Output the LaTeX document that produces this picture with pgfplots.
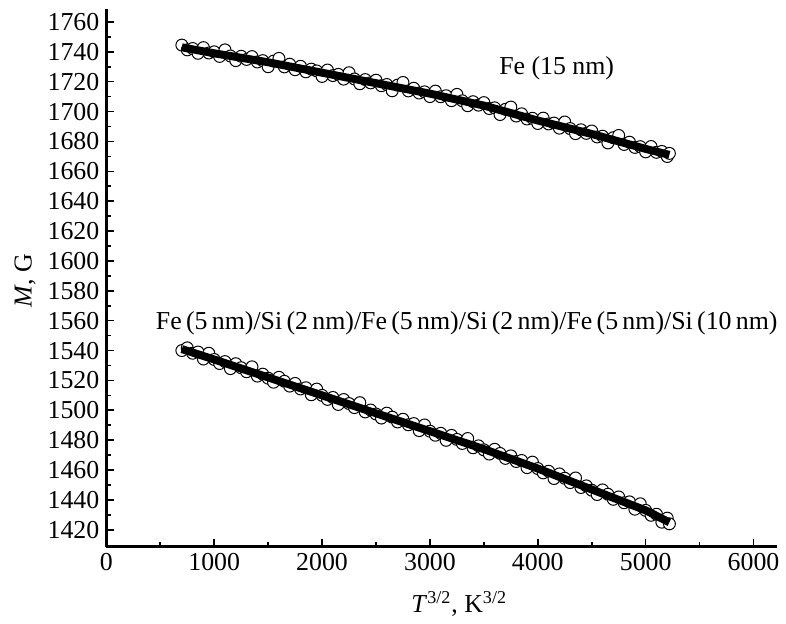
\documentclass[border=0pt]{standalone}
\usepackage{fontspec}
\setmainfont{Liberation Serif}
\usepackage{pgfplots}
\pgfplotsset{compat=1.18}

% Fe (15 nm): measured points
\pgfplotstableread{
x y
700 1744.5
750 1741.3
800 1742.2
850 1739.0
900 1742.8
950 1739.2
1000 1740.0
1050 1736.9
1100 1741.3
1150 1737.2
1200 1734.1
1250 1737.0
1300 1734.9
1350 1736.8
1400 1733.2
1450 1734.1
1500 1730.0
1550 1733.8
1600 1735.6
1650 1729.9
1700 1731.7
1750 1728.0
1800 1730.3
1850 1726.6
1900 1728.4
1950 1727.2
2000 1723.5
2050 1727.8
2100 1724.1
2150 1724.9
2200 1721.7
2250 1726.0
2300 1721.8
2350 1718.6
2400 1721.4
2450 1719.2
2500 1721.0
2550 1717.3
2600 1718.1
2650 1713.9
2700 1717.7
2750 1719.5
2800 1713.8
2850 1715.6
2900 1712.4
2950 1713.2
3000 1710.0
3050 1713.7
3100 1709.9
3150 1710.6
3200 1707.3
3250 1711.5
3300 1707.2
3350 1703.9
3400 1706.6
3450 1704.3
3500 1706.0
3550 1702.0
3600 1702.5
3650 1698.0
3700 1701.5
3750 1703.0
3800 1697.0
3850 1698.5
3900 1695.0
3950 1695.5
4000 1692.0
4050 1695.6
4100 1691.7
4150 1692.3
4200 1688.9
4250 1693.0
4300 1688.6
4350 1685.2
4400 1687.8
4450 1685.4
4500 1687.0
4550 1683.0
4600 1683.5
4650 1679.0
4700 1682.5
4750 1684.0
4800 1678.0
4850 1679.5
4900 1676.0
4950 1676.5
5000 1673.0
5050 1676.6
5100 1672.7
5150 1673.3
5200 1669.9
5220 1672.0
}\feA

% Fe/Si multilayer: measured points
\pgfplotstableread{
x y
700 1540.0
750 1541.8
800 1538.2
850 1539.0
900 1534.3
950 1538.2
1000 1534.0
1050 1531.3
1100 1532.6
1150 1527.9
1200 1531.2
1250 1528.5
1300 1525.8
1350 1529.1
1400 1522.9
1450 1524.2
1500 1521.5
1550 1518.8
1600 1522.1
1650 1519.4
1700 1516.2
1750 1518.0
1800 1514.3
1850 1515.1
1900 1510.4
1950 1514.2
2000 1510.0
2050 1507.3
2100 1508.6
2150 1503.9
2200 1507.2
2250 1504.5
2300 1501.8
2350 1505.1
2400 1498.9
2450 1500.2
2500 1497.5
2550 1494.8
2600 1498.1
2650 1495.4
2700 1492.2
2750 1494.0
2800 1490.3
2850 1491.1
2900 1486.4
2950 1490.2
3000 1486.0
3050 1483.3
3100 1484.6
3150 1479.9
3200 1483.2
3250 1480.5
3300 1477.8
3350 1481.1
3400 1474.9
3450 1476.2
3500 1473.5
3550 1470.7
3600 1473.9
3650 1471.1
3700 1467.8
3750 1469.5
3800 1465.7
3850 1466.4
3900 1461.6
3950 1465.3
4000 1461.0
4050 1458.1
4100 1459.2
4150 1454.3
4200 1457.4
4250 1454.5
4300 1451.6
4350 1454.7
4400 1448.3
4450 1449.4
4500 1446.5
4550 1443.6
4600 1446.7
4650 1443.8
4700 1440.4
4750 1442.0
4800 1438.1
4850 1438.7
4900 1433.8
4950 1437.4
5000 1433.0
5050 1429.7
5100 1430.4
5150 1425.1
5200 1427.8
5220 1424.0
}\multi

\begin{document}
\begin{tikzpicture}[font=\fontsize{13}{15}\selectfont]
\begin{axis}[
    at={(0,0)}, anchor=south west,
    scale only axis,
    width=337.5pt, height=270.5pt,
    xmin=0, xmax=6220,
    ymin=1408.7, ymax=1768.7,
    axis x line=bottom, axis y line=left,
    axis line style={-, line width=1.2pt},
    xtick={0,1000,...,6000},
    ytick={1420,1440,...,1760},
    minor x tick num=1, minor y tick num=1,
    tick align=inside,
    major tick length=4pt, minor tick length=2.5pt,
    every tick/.style={black, line width=0.8pt},
    /pgf/number format/assume math mode=true,
    /pgf/number format/1000 sep={},
    xlabel={\textit{T}\textsuperscript{3/2}, K\textsuperscript{3/2}},
    ylabel={\textit{M}, G},
    x label style={at={(axis description cs:0.526,-0.107)}, anchor=center},
    y label style={at={(axis description cs:-0.121,0.495)}, anchor=center},
    clip marker paths=true,
]
\addplot[only marks, mark=*, mark size=3pt,
    mark options={fill=white, draw=black, line width=0.5pt}] table[x=x, y=y] {\feA};
\addplot[only marks, mark=*, mark size=3pt,
    mark options={fill=white, draw=black, line width=0.5pt}] table[x=x, y=y] {\multi};
% fitted lines
\addplot[black, line width=4pt] coordinates {
    (700,1743) (1000,1739) (1500,1733) (2000,1726) (2500,1719) (3000,1712)
    (3500,1704) (4000,1694) (4500,1685) (5000,1675) (5220,1671)};
\addplot[black, line width=4pt] coordinates {
    (700,1541) (1000,1534) (1500,1522) (2000,1510) (2500,1498) (3000,1486)
    (3500,1474) (4000,1461) (4500,1447) (5000,1433) (5220,1425)};
\node at (axis cs:4175,1729) {Fe (15 nm)};
\node at (axis cs:3341,1558) {Fe\,(5\,nm)/Si\,(2\,nm)/Fe\,(5\,nm)/Si\,(2\,nm)/Fe\,(5\,nm)/Si\,(10\,nm)};
\end{axis}
\path (-53.5pt,-38.5pt) rectangle (339.5pt,275pt);
\end{tikzpicture}
\end{document}
